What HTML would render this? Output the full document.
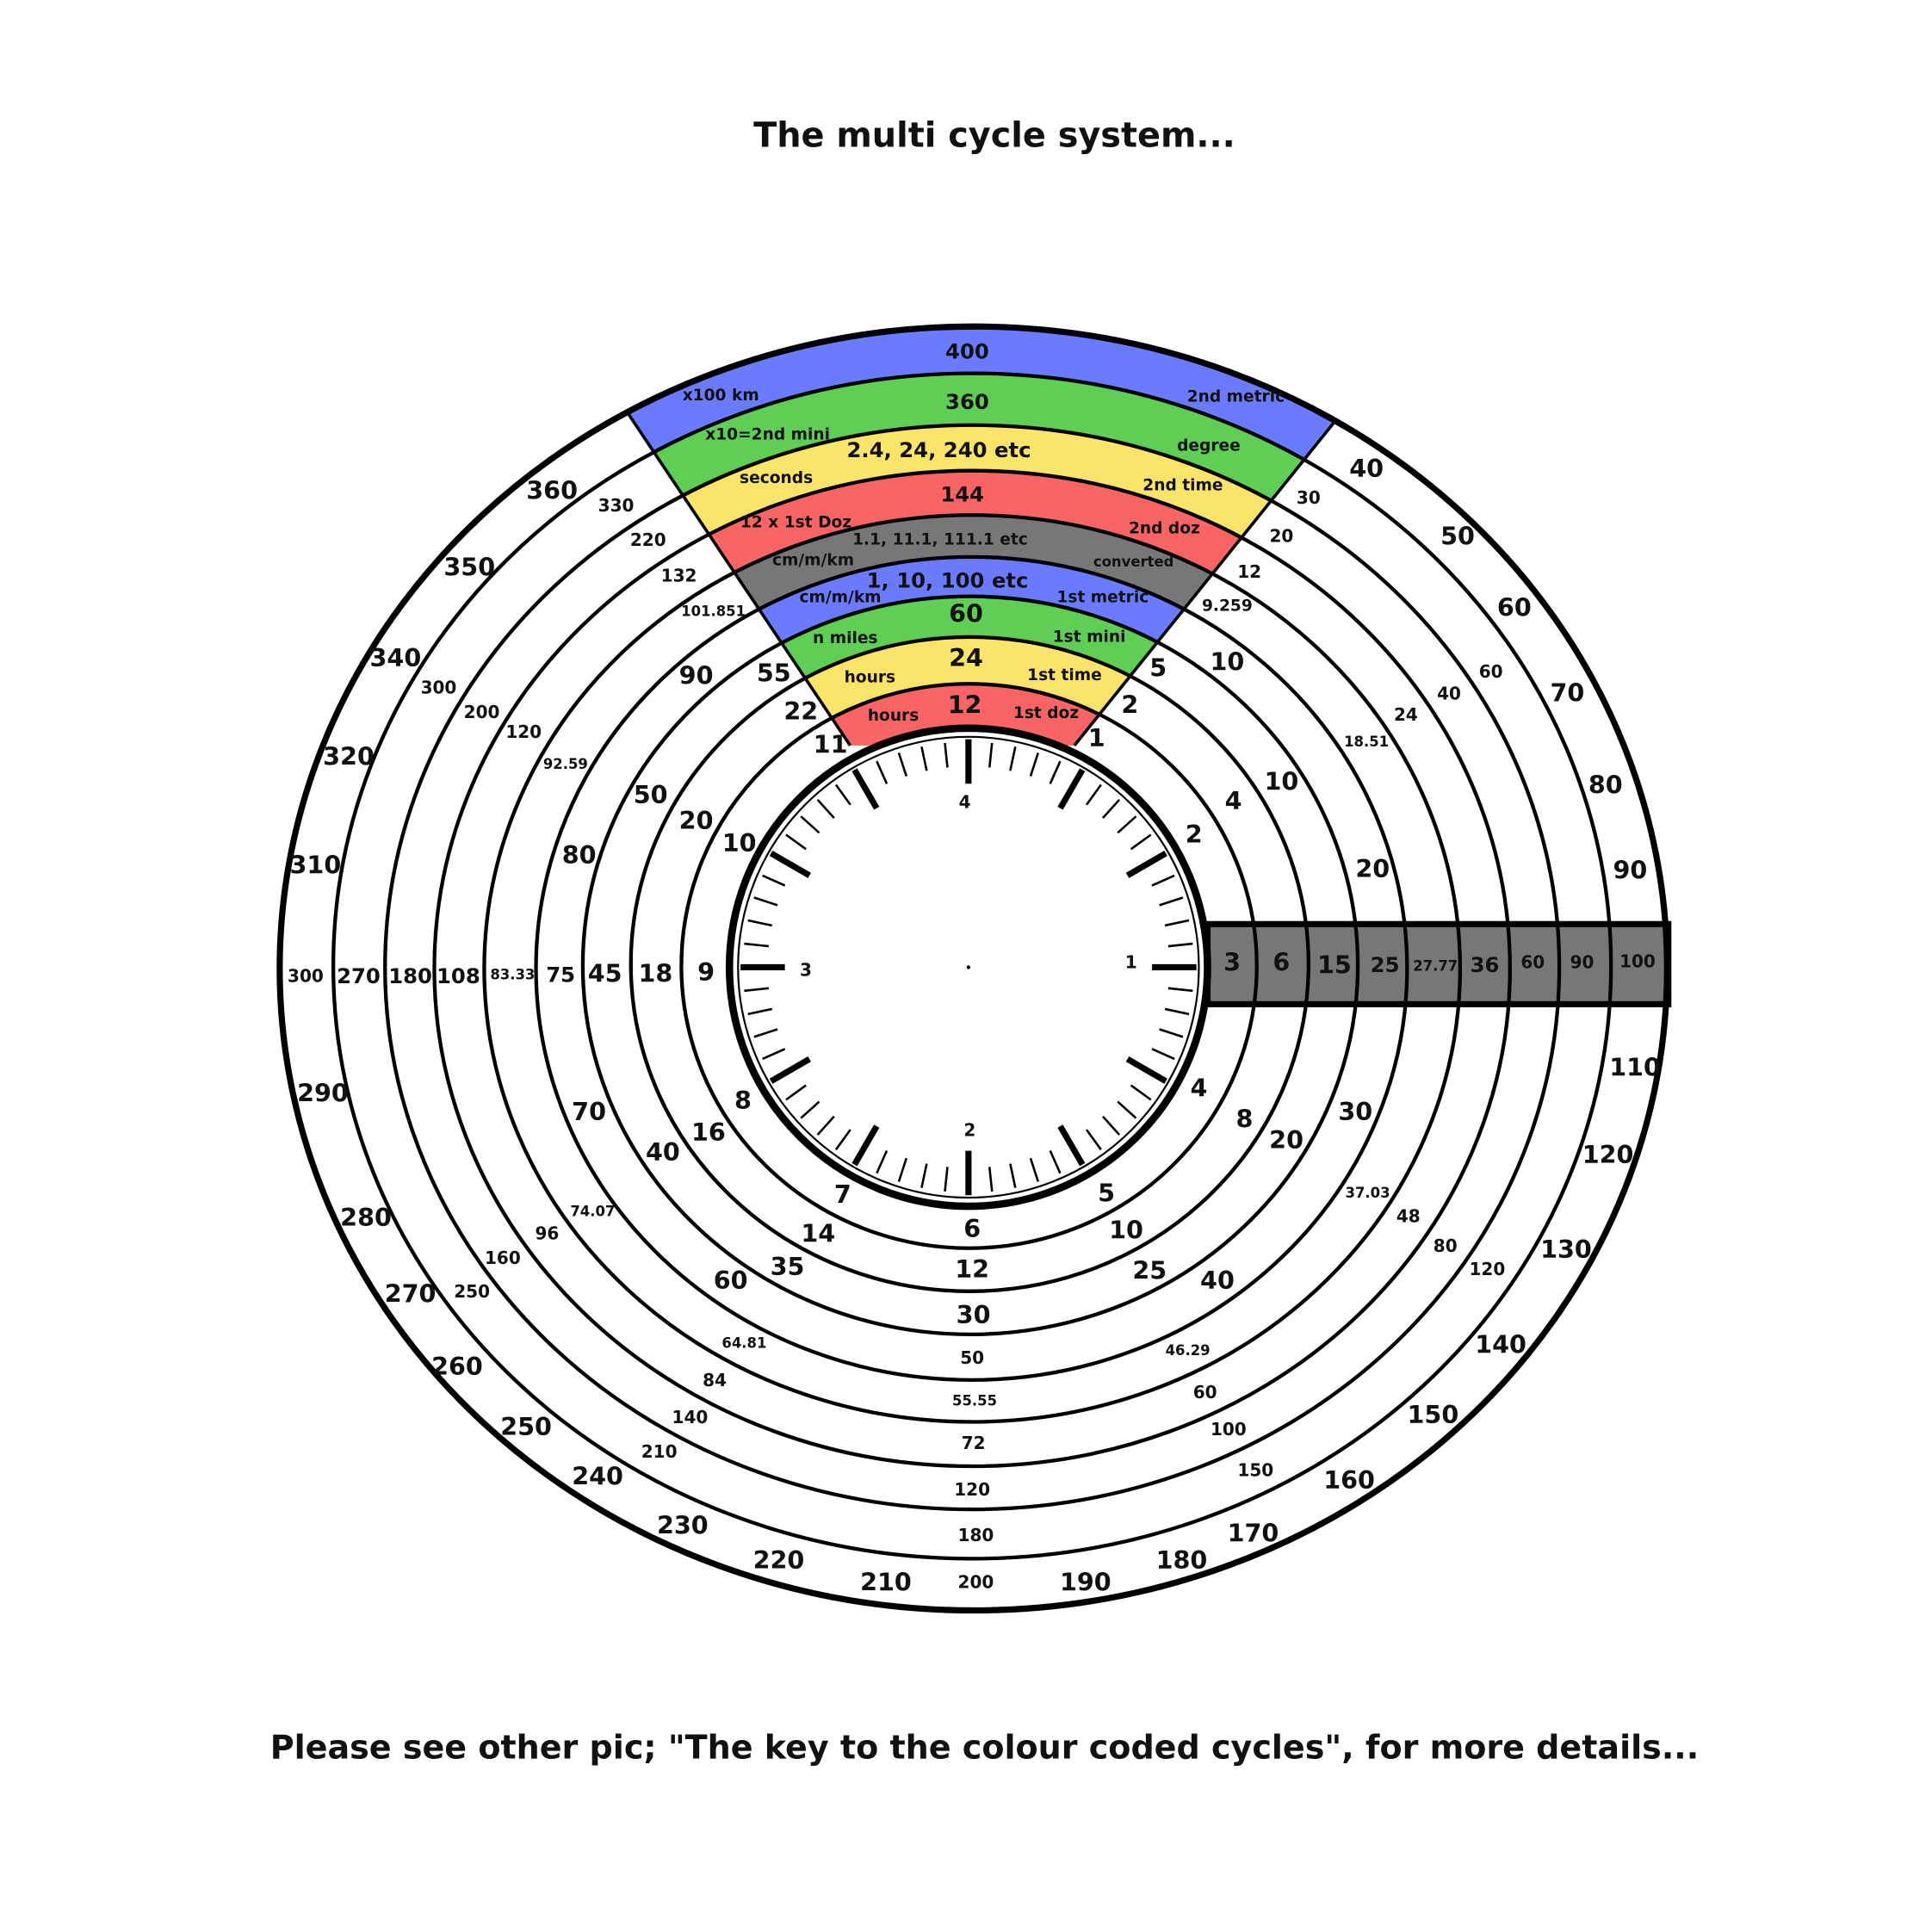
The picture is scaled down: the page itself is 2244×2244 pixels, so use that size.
<!DOCTYPE html>
<html><head><meta charset="utf-8"><style>
html,body{margin:0;padding:0;background:#fff}
svg{display:block}
text{font-family:"DejaVu Sans","Liberation Sans",sans-serif;font-weight:bold;fill:#111;text-anchor:middle;dominant-baseline:central}
.L{font-size:20px}.M{font-size:17px}.S{font-size:14px}.T{font-size:11.5px}.B{font-size:13px}
</style></head><body>
<svg width="2244" height="2244" viewBox="0 0 1568 1568" xmlns="http://www.w3.org/2000/svg" xmlns:xlink="http://www.w3.org/1999/xlink">
<rect width="1568" height="1568" fill="#fff"/>
<defs><clipPath id="w"><polygon points="446,240 1165,240 872,605 690,605"/></clipPath>
<line id="mi" x1="786" y1="622" x2="786" y2="602" stroke="#000" stroke-width="1.8"/>
<line id="ma" x1="786" y1="636" x2="786" y2="600" stroke="#000" stroke-width="5"/>
</defs>
<g clip-path="url(#w)">
<ellipse cx="790" cy="786" rx="563" ry="521" fill="#6b7bff"/>
<ellipse cx="789" cy="784" rx="518.5" ry="481" fill="#5fce55"/>
<ellipse cx="789" cy="785" rx="476.5" ry="440" fill="#fbe46a"/>
<ellipse cx="789" cy="786" rx="436.5" ry="404" fill="#fb6464"/>
<ellipse cx="789" cy="786" rx="396" ry="368" fill="#777"/>
<ellipse cx="788.5" cy="786" rx="353.5" ry="334" fill="#6b7bff"/>
<ellipse cx="787.5" cy="783.5" rx="314.5" ry="299.5" fill="#5fce55"/>
<ellipse cx="787" cy="782.5" rx="275" ry="265.5" fill="#fbe46a"/>
<ellipse cx="786.5" cy="784" rx="233.5" ry="229" fill="#fb6464"/>
</g>
<rect x="980" y="750" width="374" height="65" fill="#777" stroke="#000" stroke-width="5"/>
<g fill="none" stroke="#000" stroke-width="3">
<ellipse cx="790" cy="786" rx="563" ry="521" stroke-width="5"/>
<ellipse cx="789" cy="784" rx="518.5" ry="481"/>
<ellipse cx="789" cy="785" rx="476.5" ry="440"/>
<ellipse cx="789" cy="786" rx="436.5" ry="404"/>
<ellipse cx="789" cy="786" rx="396" ry="368"/>
<ellipse cx="788.5" cy="786" rx="353.5" ry="334"/>
<ellipse cx="787.5" cy="783.5" rx="314.5" ry="299.5"/>
<ellipse cx="787" cy="782.5" rx="275" ry="265.5"/>
<ellipse cx="786.5" cy="784" rx="233.5" ry="229"/>
<line x1="690" y1="605" x2="508" y2="333" stroke-width="2.5"/>
<line x1="872" y1="605" x2="1085" y2="340" stroke-width="2.5"/>
</g>
<circle cx="786" cy="785" r="194" fill="#fff" stroke="#000" stroke-width="6"/>
<circle cx="786" cy="785" r="187" fill="none" stroke="#000" stroke-width="1.5"/>
<g>
<use xlink:href="#ma" href="#ma" transform="rotate(0 786 785)"/>
<use xlink:href="#mi" href="#mi" transform="rotate(6 786 785)"/>
<use xlink:href="#mi" href="#mi" transform="rotate(12 786 785)"/>
<use xlink:href="#mi" href="#mi" transform="rotate(18 786 785)"/>
<use xlink:href="#mi" href="#mi" transform="rotate(24 786 785)"/>
<use xlink:href="#ma" href="#ma" transform="rotate(30 786 785)"/>
<use xlink:href="#mi" href="#mi" transform="rotate(36 786 785)"/>
<use xlink:href="#mi" href="#mi" transform="rotate(42 786 785)"/>
<use xlink:href="#mi" href="#mi" transform="rotate(48 786 785)"/>
<use xlink:href="#mi" href="#mi" transform="rotate(54 786 785)"/>
<use xlink:href="#ma" href="#ma" transform="rotate(60 786 785)"/>
<use xlink:href="#mi" href="#mi" transform="rotate(66 786 785)"/>
<use xlink:href="#mi" href="#mi" transform="rotate(72 786 785)"/>
<use xlink:href="#mi" href="#mi" transform="rotate(78 786 785)"/>
<use xlink:href="#mi" href="#mi" transform="rotate(84 786 785)"/>
<use xlink:href="#ma" href="#ma" transform="rotate(90 786 785)"/>
<use xlink:href="#mi" href="#mi" transform="rotate(96 786 785)"/>
<use xlink:href="#mi" href="#mi" transform="rotate(102 786 785)"/>
<use xlink:href="#mi" href="#mi" transform="rotate(108 786 785)"/>
<use xlink:href="#mi" href="#mi" transform="rotate(114 786 785)"/>
<use xlink:href="#ma" href="#ma" transform="rotate(120 786 785)"/>
<use xlink:href="#mi" href="#mi" transform="rotate(126 786 785)"/>
<use xlink:href="#mi" href="#mi" transform="rotate(132 786 785)"/>
<use xlink:href="#mi" href="#mi" transform="rotate(138 786 785)"/>
<use xlink:href="#mi" href="#mi" transform="rotate(144 786 785)"/>
<use xlink:href="#ma" href="#ma" transform="rotate(150 786 785)"/>
<use xlink:href="#mi" href="#mi" transform="rotate(156 786 785)"/>
<use xlink:href="#mi" href="#mi" transform="rotate(162 786 785)"/>
<use xlink:href="#mi" href="#mi" transform="rotate(168 786 785)"/>
<use xlink:href="#mi" href="#mi" transform="rotate(174 786 785)"/>
<use xlink:href="#ma" href="#ma" transform="rotate(180 786 785)"/>
<use xlink:href="#mi" href="#mi" transform="rotate(186 786 785)"/>
<use xlink:href="#mi" href="#mi" transform="rotate(192 786 785)"/>
<use xlink:href="#mi" href="#mi" transform="rotate(198 786 785)"/>
<use xlink:href="#mi" href="#mi" transform="rotate(204 786 785)"/>
<use xlink:href="#ma" href="#ma" transform="rotate(210 786 785)"/>
<use xlink:href="#mi" href="#mi" transform="rotate(216 786 785)"/>
<use xlink:href="#mi" href="#mi" transform="rotate(222 786 785)"/>
<use xlink:href="#mi" href="#mi" transform="rotate(228 786 785)"/>
<use xlink:href="#mi" href="#mi" transform="rotate(234 786 785)"/>
<use xlink:href="#ma" href="#ma" transform="rotate(240 786 785)"/>
<use xlink:href="#mi" href="#mi" transform="rotate(246 786 785)"/>
<use xlink:href="#mi" href="#mi" transform="rotate(252 786 785)"/>
<use xlink:href="#mi" href="#mi" transform="rotate(258 786 785)"/>
<use xlink:href="#mi" href="#mi" transform="rotate(264 786 785)"/>
<use xlink:href="#ma" href="#ma" transform="rotate(270 786 785)"/>
<use xlink:href="#mi" href="#mi" transform="rotate(276 786 785)"/>
<use xlink:href="#mi" href="#mi" transform="rotate(282 786 785)"/>
<use xlink:href="#mi" href="#mi" transform="rotate(288 786 785)"/>
<use xlink:href="#mi" href="#mi" transform="rotate(294 786 785)"/>
<use xlink:href="#ma" href="#ma" transform="rotate(300 786 785)"/>
<use xlink:href="#mi" href="#mi" transform="rotate(306 786 785)"/>
<use xlink:href="#mi" href="#mi" transform="rotate(312 786 785)"/>
<use xlink:href="#mi" href="#mi" transform="rotate(318 786 785)"/>
<use xlink:href="#mi" href="#mi" transform="rotate(324 786 785)"/>
<use xlink:href="#ma" href="#ma" transform="rotate(330 786 785)"/>
<use xlink:href="#mi" href="#mi" transform="rotate(336 786 785)"/>
<use xlink:href="#mi" href="#mi" transform="rotate(342 786 785)"/>
<use xlink:href="#mi" href="#mi" transform="rotate(348 786 785)"/>
<use xlink:href="#mi" href="#mi" transform="rotate(354 786 785)"/>
</g>
<circle cx="786" cy="785" r="1.5" fill="#000"/>
<text x="807" y="110" style="font-size:27.8px">The multi cycle system...</text>
<text x="799" y="1418" style="font-size:26.6px">Please see other pic; "The key to the colour coded cycles", for more details...</text>
<text class="S" x="783" y="651">4</text><text class="S" x="918" y="781">1</text><text class="S" x="787" y="917">2</text><text class="S" x="654" y="787">3</text>
<text class="L" x="448" y="398">360</text><text class="L" x="381" y="460">350</text><text class="L" x="321" y="534">340</text><text class="L" x="283" y="614">320</text><text class="L" x="256" y="702">310</text><text class="S" x="248" y="792">300</text><text class="L" x="262" y="887">290</text><text class="L" x="297" y="988">280</text><text class="L" x="333" y="1050">270</text><text class="L" x="371" y="1109">260</text><text class="L" x="427" y="1158">250</text><text class="L" x="485" y="1198">240</text><text class="L" x="554" y="1238">230</text><text class="L" x="632" y="1266">220</text><text class="L" x="719" y="1284">210</text><text class="S" x="792" y="1284">200</text><text class="L" x="881" y="1284">190</text><text class="L" x="959" y="1266">180</text><text class="L" x="1017" y="1244">170</text><text class="L" x="1095" y="1201">160</text><text class="L" x="1163" y="1148">150</text><text class="L" x="1218" y="1091">140</text><text class="L" x="1271" y="1014">130</text><text class="L" x="1305" y="937">120</text><text class="L" x="1327" y="866">110</text><text class="S" x="1329" y="780">100</text><text class="L" x="1323" y="706">90</text><text class="L" x="1303" y="637">80</text><text class="L" x="1272" y="562">70</text><text class="L" x="1229" y="493">60</text><text class="L" x="1183" y="435">50</text><text class="L" x="1109" y="380">40</text>
<text class="S" x="500" y="410">330</text><text class="S" x="356" y="558">300</text><text class="M" x="291" y="792">270</text><text class="S" x="383" y="1048">250</text><text class="S" x="535" y="1178">210</text><text class="S" x="792" y="1246">180</text><text class="S" x="1019" y="1193">150</text><text class="S" x="1207" y="1030">120</text><text class="S" x="1284" y="781">90</text><text class="S" x="1210" y="545">60</text><text class="S" x="1062" y="404">30</text>
<text class="S" x="526" y="438">220</text><text class="S" x="391" y="578">200</text><text class="M" x="333" y="792">180</text><text class="S" x="408" y="1021">160</text><text class="S" x="560" y="1150">140</text><text class="S" x="789" y="1209">120</text><text class="S" x="997" y="1160">100</text><text class="S" x="1173" y="1011">80</text><text class="S" x="1244" y="781">60</text><text class="S" x="1176" y="563">40</text><text class="S" x="1040" y="435">20</text>
<text class="S" x="551" y="467">132</text><text class="S" x="425" y="594">120</text><text class="M" x="372" y="792">108</text><text class="S" x="444" y="1001">96</text><text class="S" x="580" y="1120">84</text><text class="S" x="790" y="1171">72</text><text class="S" x="978" y="1130">60</text><text class="S" x="1143" y="987">48</text><text class="M" x="1205" y="783">36</text><text class="S" x="1141" y="580">24</text><text class="S" x="1014" y="464">12</text>
<text class="T" x="579" y="496">101.851</text><text class="T" x="459" y="620">92.59</text><text class="T" x="416" y="791">83.33</text><text class="T" x="481" y="983">74.07</text><text class="T" x="604" y="1090">64.81</text><text class="T" x="791" y="1137">55.55</text><text class="T" x="964" y="1096">46.29</text><text class="T" x="1110" y="968">37.03</text><text class="T" x="1165" y="784">27.77</text><text class="T" x="1109" y="602">18.51</text><text class="B" x="996" y="492">9.259</text>
<text class="L" x="565" y="548">90</text><text class="L" x="470" y="694">80</text><text class="M" x="455" y="791">75</text><text class="L" x="478" y="902">70</text><text class="L" x="593" y="1039">60</text><text class="S" x="789" y="1102">50</text><text class="L" x="988" y="1039">40</text><text class="L" x="1100" y="902">30</text><text class="M" x="1124" y="783">25</text><text class="L" x="1114" y="705">20</text><text class="L" x="996" y="537">10</text>
<text class="L" x="628" y="546">55</text><text class="L" x="528" y="645">50</text><text class="L" x="491" y="790">45</text><text class="L" x="538" y="935">40</text><text class="L" x="639" y="1028">35</text><text class="L" x="790" y="1067">30</text><text class="L" x="933" y="1031">25</text><text class="L" x="1044" y="925">20</text><text class="L" x="1083" y="783">15</text><text class="L" x="1040" y="634">10</text><text class="L" x="940" y="542">5</text>
<text class="L" x="650" y="577">22</text><text class="L" x="565" y="666">20</text><text class="L" x="532" y="790">18</text><text class="L" x="575" y="919">16</text><text class="L" x="664" y="1001">14</text><text class="L" x="789" y="1030">12</text><text class="L" x="914" y="998">10</text><text class="L" x="1010" y="908">8</text><text class="L" x="1040" y="781">6</text><text class="L" x="1001" y="650">4</text><text class="L" x="917" y="572">2</text>
<text class="L" x="674" y="604">11</text><text class="L" x="600" y="684">10</text><text class="L" x="573" y="789">9</text><text class="L" x="603" y="893">8</text><text class="L" x="684" y="969">7</text><text class="L" x="789" y="997">6</text><text class="L" x="898" y="968">5</text><text class="L" x="973" y="883">4</text><text class="L" x="1000" y="781">3</text><text class="L" x="969" y="677">2</text><text class="L" x="890" y="599">1</text>
<text class="M" x="785" y="285">400</text><text class="B" x="585" y="321">x100 km</text><text class="B" x="1003" y="322">2nd metric</text>
<text class="M" x="785" y="326">360</text><text class="B" x="623" y="353">x10=2nd mini</text><text class="B" x="981" y="362">degree</text>
<text class="M" x="762" y="365">2.4, 24, 240 etc</text><text class="B" x="630" y="388">seconds</text><text class="B" x="960" y="394">2nd time</text>
<text class="M" x="781" y="401">144</text><text class="B" x="646" y="424">12 x 1st Doz</text><text class="B" x="945" y="429">2nd doz</text>
<text class="B" x="763" y="438">1.1, 11.1, 111.1 etc</text><text class="B" x="660" y="455">cm/m/km</text><text class="T" x="920" y="456">converted</text>
<text class="M" x="769" y="471">1, 10, 100 etc</text><text class="B" x="682" y="485">cm/m/km</text><text class="B" x="895" y="485">1st metric</text>
<text class="L" x="784" y="498">60</text><text class="B" x="686" y="518">n miles</text><text class="B" x="884" y="517">1st mini</text>
<text class="L" x="784" y="534">24</text><text class="B" x="706" y="550">hours</text><text class="B" x="864" y="548">1st time</text>
<text class="L" x="783" y="572">12</text><text class="B" x="725" y="581">hours</text><text class="B" x="849" y="579">1st doz</text>
</svg>
</body></html>
